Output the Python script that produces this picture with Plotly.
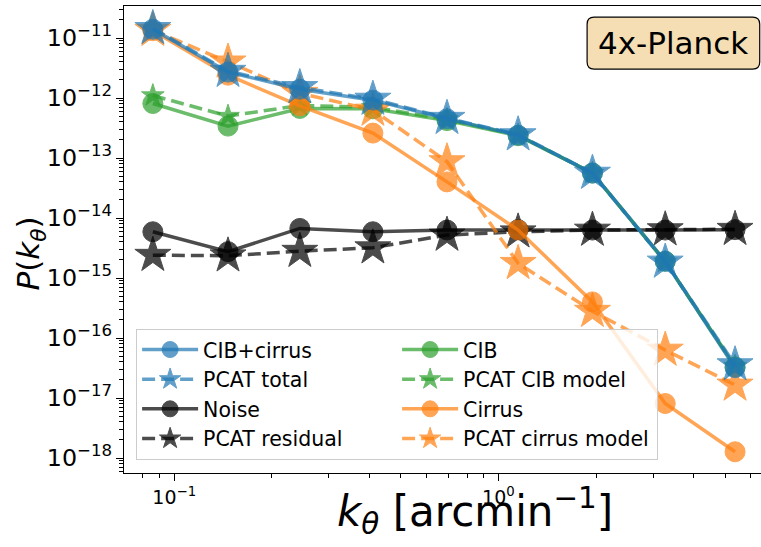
import plotly.graph_objects as go

k = [0.0859, 0.1465, 0.244, 0.410, 0.694, 1.15, 1.95, 3.27, 5.37]

cib_cirrus = [1.4e-11, 2.7e-12, 1.4e-12, 9.2e-13, 4.5e-13, 2.4e-13, 5.6e-14, 1.9e-15, 3.2e-17]
pcat_total = [1.45e-11, 2.8e-12, 1.5e-12, 9.6e-13, 4.6e-13, 2.45e-13, 5.6e-14, 1.85e-15, 3.6e-17]
cib = [8.1e-13, 3.4e-13, 6.7e-13, 6.6e-13, 4.2e-13, 2.35e-13, 5.6e-14, 1.9e-15, 3.3e-17]
pcat_cib = [1.1e-12, 5.0e-13, 7.5e-13, 7.0e-13, 4.4e-13, 2.4e-13, 5.6e-14, 1.85e-15, 3.4e-17]
cirrus = [1.32e-11, 2.4e-12, 7.4e-13, 2.6e-13, 4.0e-14, 6.3e-15, 4.0e-16, 8.1e-18, 1.27e-18]
pcat_cirrus = [1.35e-11, 4.0e-12, 1.2e-12, 6.3e-13, 8.7e-14, 1.76e-15, 2.8e-16, 6.3e-17, 1.65e-17]
noise = [5.9e-15, 2.75e-15, 6.7e-15, 5.9e-15, 6.3e-15, 6.4e-15, 6.3e-15, 6.3e-15, 6.4e-15]
residual = [2.4e-15, 2.35e-15, 2.8e-15, 3.2e-15, 5.2e-15, 5.9e-15, 6.3e-15, 6.4e-15, 6.5e-15]

x_tickvals = [0.1, 1]
x_ticktext = ["10<sup>−1</sup>", "10<sup>0</sup>"]
x_minor = [0.08, 0.09, 0.2, 0.3, 0.4, 0.5, 0.6, 0.7, 0.8, 0.9, 2, 3, 4, 5, 6]

BLUE, ORANGE, GREEN, BLACK = "#1f77b4", "#ff7f0e", "#2ca02c", "#000000"


def rgba(hexc, a):
    h = hexc.lstrip("#")
    r, g, b = int(h[0:2], 16), int(h[2:4], 16), int(h[4:6], 16)
    return f"rgba({r},{g},{b},{a})"


# (name, y, color, symbol, size, dash, legend rank, legend column)  -- drawing order
series = [
    ("Noise", noise, BLACK, "circle", 20, "solid", 5, 0),
    ("PCAT residual", residual, BLACK, "star", 27, "13px,6px", 7, 0),
    ("CIB", cib, GREEN, "circle", 20, "solid", 2, 1),
    ("PCAT CIB model", pcat_cib, GREEN, "star", 17, "13px,6px", 4, 1),
    ("Cirrus", cirrus, ORANGE, "circle", 20, "solid", 6, 1),
    ("PCAT cirrus model", pcat_cirrus, ORANGE, "star", 27, "13px,6px", 8, 1),
    ("CIB+cirrus", cib_cirrus, BLUE, "circle", 20, "solid", 1, 0),
    ("PCAT total", pcat_total, BLUE, "star", 27, "13px,6px", 3, 0),
]
col_width = [178, 189]

fig = go.Figure()
for name, y, col, sym, size, dash, rank, lcol in series:
    fig.add_trace(go.Scatter(
        x=k, y=y, name=name, mode="lines+markers", legendrank=rank,
        legendwidth=col_width[lcol],
        line=dict(color=rgba(col, 0.7), width=3.5, dash=dash),
        marker=dict(symbol=sym, size=size, color=col, opacity=0.7,
                    line=dict(color=col, width=1)),
    ))

fig.update_layout(
    width=761, height=547,
    margin=dict(l=124, r=0, t=6, b=74),
    paper_bgcolor="white", plot_bgcolor="white",
    font=dict(family="DejaVu Sans", color="black", size=18),
    showlegend=True,
    legend=dict(
        orientation="h", x=0.019, y=0.309, xanchor="left", yanchor="top",
        bgcolor="rgba(255,255,255,0.8)", bordercolor="#cccccc", borderwidth=1,
        font=dict(size=20.5, family="DejaVu Sans"),
        entrywidthmode="pixels", itemwidth=56,
        traceorder="normal", itemsizing="trace",
    ),
    xaxis=dict(
        type="log", range=[-1.155, 0.810],
        showline=True, linecolor="black", linewidth=1.2, mirror=True,
        ticks="outside", ticklen=7, tickwidth=1.2, tickcolor="black",
        tickmode="array", tickvals=x_tickvals, ticktext=x_ticktext,
        showgrid=False, zeroline=False,
        minor=dict(ticks="outside", ticklen=4, tickcolor="black", showgrid=False,
                   tickmode="array", tickvals=x_minor),
        tickfont=dict(size=19),
    ),
    yaxis=dict(
        type="log", range=[-18.25, -10.4667],
        showline=True, linecolor="black", linewidth=1.2, mirror=False,
        ticks="outside", ticklen=7, tickwidth=1.2, tickcolor="black",
        dtick=1, exponentformat="power", showgrid=False, zeroline=False,
        minor=dict(ticks="outside", ticklen=4, tickcolor="black", showgrid=False),
        tickfont=dict(size=19),
    ),
)

# axis titles (the reference figure is cropped on the right, so the x title sits right of centre)
fig.add_annotation(text="<i>k</i><sub><i>θ</i></sub> [arcmin<sup>−1</sup>]",
                   xref="paper", yref="paper", x=0.551, y=-0.082,
                   xanchor="center", yanchor="middle", showarrow=False,
                   font=dict(size=42, family="DejaVu Sans", color="black"))
fig.add_annotation(text="<i>P</i>(<i>k</i><sub><i>θ</i></sub>)",
                   xref="paper", yref="paper", x=-0.146, y=0.47, textangle=-90,
                   xanchor="center", yanchor="middle", showarrow=False,
                   font=dict(size=31, family="DejaVu Sans", color="black"))

# rounded label box (paper coordinates)
x0, x1 = 0.727, 0.998
y0, y1 = 0.865, 0.976
rx, ry = 0.011, 0.015
path = (f"M {x0+rx},{y1} L {x1-rx},{y1} Q {x1},{y1} {x1},{y1-ry} "
        f"L {x1},{y0+ry} Q {x1},{y0} {x1-rx},{y0} L {x0+rx},{y0} "
        f"Q {x0},{y0} {x0},{y0+ry} L {x0},{y1-ry} Q {x0},{y1} {x0+rx},{y1} Z")
fig.add_shape(type="path", path=path, xref="paper", yref="paper",
              fillcolor="#f5deb3", line=dict(color="black", width=1.2), layer="below")
fig.add_annotation(text="4x-Planck", xref="paper", yref="paper",
                   x=(x0 + x1) / 2, y=(y0 + y1) / 2, xanchor="center", yanchor="middle",
                   showarrow=False,
                   font=dict(size=31, family="DejaVu Sans", color="black"))

fig.write_html("out.html")
